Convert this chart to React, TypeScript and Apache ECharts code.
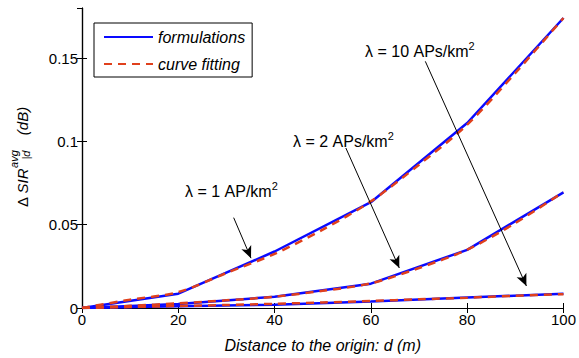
import React, { useEffect, useRef } from "react";
import * as echarts from "echarts";

// distances (m)
const distances = [0, 20, 40, 60, 80, 100];
const fitDistances = [0, 10, 20, 30, 40, 50, 60, 70, 80, 90, 100];

// formulations (solid)
const formulaL1 = [0, 0.0086, 0.0339, 0.0635, 0.111, 0.174];
const formulaL2 = [0, 0.0024, 0.0067, 0.0146, 0.0349, 0.0694];
const formulaL10 = [0, 0.001, 0.002, 0.0039, 0.0063, 0.0085];

// curve fitting (dashed)
const fitL1 = [0, 0.005, 0.0095, 0.021, 0.0325, 0.047, 0.064, 0.086, 0.11, 0.141, 0.174];
const fitL2 = [0, 0.0013, 0.0028, 0.0046, 0.0068, 0.0103, 0.0148, 0.024, 0.035, 0.051, 0.0696];
const fitL10 = [0, 0.0006, 0.0012, 0.0018, 0.0025, 0.0033, 0.0042, 0.0052, 0.0062, 0.0073, 0.0083];

const xTicks = [0, 20, 40, 60, 80, 100];
const yTicks = [0, 0.05, 0.1, 0.15];

// annotation arrows in data coords: [fromX, fromY, toX, toY]
const arrowL1 = [31.5, 0.0542, 35.1, 0.0299];
const arrowL2 = [54.8, 0.096, 65.9, 0.024];
const arrowL10 = [71.3, 0.148, 92.3, 0.0132];

const BLUE = "#0a0aff";
const RED = "#e0401c";
const FONT = "'Liberation Sans', Arial, Helvetica, sans-serif";

const pairs = (xs: number[], ys: number[]) => xs.map((x, i) => [x, ys[i]]);

export default function App() {
  const ref = useRef<HTMLDivElement>(null);
  useEffect(() => {
    if (!ref.current) return;
    const chart = echarts.init(ref.current, undefined, { renderer: "svg" });

    const solid = (data: number[][]) => ({
      type: "line",
      name: "formulations",
      data,
      symbol: "none",
      xAxisIndex: 0,
      yAxisIndex: 0,
      lineStyle: { color: BLUE, width: 2.5, type: "solid" },
      itemStyle: { color: BLUE },
      z: 3,
    });
    const dashed = (data: number[][]) => ({
      type: "line",
      name: "curve fitting",
      data,
      symbol: "none",
      smooth: 0.3,
      xAxisIndex: 0,
      yAxisIndex: 0,
      lineStyle: { color: RED, width: 2.5, type: [8, 6] },
      itemStyle: { color: RED },
      z: 4,
    });
    const arrow = (a: number[]) => [{ coord: [a[0], a[1]] }, { coord: [a[2], a[3]] }];

    const annotation = (x: number, y: number, main: string) => ({
      type: "text",
      left: x,
      top: y - 11,
      z: 10,
      style: {
        text: `{a|${main}}{s|2}`,
        font: `16px ${FONT}`,
        fill: "#000",
        rich: {
          a: { fontSize: 16, fontFamily: FONT, lineHeight: 22, fill: "#000", color: "#000" },
          s: { fontSize: 11, fontFamily: FONT, verticalAlign: "top", color: "#000" },
        },
      },
    });

    const yTitlePart = (text: string, lx: number, ly: number, size: number, italic: boolean) => ({
      type: "text",
      x: lx,
      y: ly,
      style: {
        text,
        font: `${italic ? "italic " : ""}${size}px ${FONT}`,
        fill: "#000",
        textAlign: "center",
        textVerticalAlign: "middle",
      },
    });

    const axisCommon = {
      min: 0,
      axisLine: { show: true, lineStyle: { color: "#000", width: 1.2 } },
      axisTick: { show: true, inside: true, length: 5, lineStyle: { color: "#000" } },
      splitLine: { show: false },
    };

    chart.setOption({
      animation: false,
      backgroundColor: "#fff",
      grid: { left: 82, right: 13, top: 8, bottom: 45, show: false },
      legend: {
        data: ["formulations", "curve fitting"],
        orient: "vertical",
        left: 94,
        top: 23,
        padding: [6, 7, 5, 9],
        itemWidth: 49,
        itemHeight: 14,
        itemGap: 11,
        backgroundColor: "#fff",
        borderColor: "#000",
        borderWidth: 1,
        borderRadius: 0,
        selectedMode: false,
        itemStyle: { opacity: 0 },
        textStyle: { fontSize: 16, fontStyle: "italic", fontFamily: FONT, color: "#000" },
      },
      xAxis: [
        {
          ...axisCommon,
          type: "value",
          position: "bottom",
          max: 100,
          interval: 20,
          data: xTicks,
          name: "Distance to the origin: d (m)",
          nameLocation: "middle",
          nameGap: 29,
          nameTextStyle: { fontSize: 16, fontStyle: "italic", fontFamily: FONT, color: "#000" },
          axisLabel: { fontSize: 15, fontFamily: FONT, color: "#000", margin: 4 },
        },
        {
          ...axisCommon,
          type: "value",
          position: "top",
          max: 100,
          interval: 20,
          axisLabel: { show: false },
        },
      ],
      yAxis: [
        {
          ...axisCommon,
          type: "value",
          position: "left",
          max: 0.18,
          interval: 0.05,
          data: yTicks,
          axisLabel: {
            fontSize: 15,
            fontFamily: FONT,
            color: "#000",
            margin: 4,
            showMaxLabel: false,
            formatter: (v: number) => (yTicks.some((t) => Math.abs(t - v) < 1e-9) ? String(+v.toFixed(2)) : ""),
          },
        },
        {
          ...axisCommon,
          type: "value",
          position: "right",
          max: 0.18,
          interval: 0.05,
          axisLabel: { show: false },
        },
      ],
      series: [
        solid(pairs(distances, formulaL1)),
        solid(pairs(distances, formulaL2)),
        solid(pairs(distances, formulaL10)),
        dashed(pairs(fitDistances, fitL1)),
        dashed(pairs(fitDistances, fitL2)),
        {
          ...dashed(pairs(fitDistances, fitL10)),
          markLine: {
            silent: true,
            symbol: ["none", "arrow"],
            symbolSize: [8, 12],
            label: { show: false },
            lineStyle: { color: "#000", width: 1, type: "solid" },
            emphasis: { disabled: true },
            data: [arrow(arrowL1), arrow(arrowL2), arrow(arrowL10)],
          },
        },
      ],
      graphic: [
        annotation(185, 191, "λ = 1 AP/km"),
        annotation(293, 141, "λ = 2 APs/km"),
        annotation(365, 51, "λ = 10 APs/km"),
        {
          type: "group",
          x: 22,
          y: 160,
          rotation: Math.PI / 2,
          children: [
            yTitlePart("Δ", -42, 0, 15, false),
            yTitlePart("SIR", -21, 0, 15, true),
            yTitlePart("avg", 1, -8, 11, true),
            yTitlePart("|d", 5, 4, 11, true),
            yTitlePart("(dB)", 39, 0, 15, true),
          ],
        },
      ],
    });
    return () => chart.dispose();
  }, []);
  return <div ref={ref} style={{ width: 579, height: 358, position: "absolute", left: 0, top: 0 }} />;
}
